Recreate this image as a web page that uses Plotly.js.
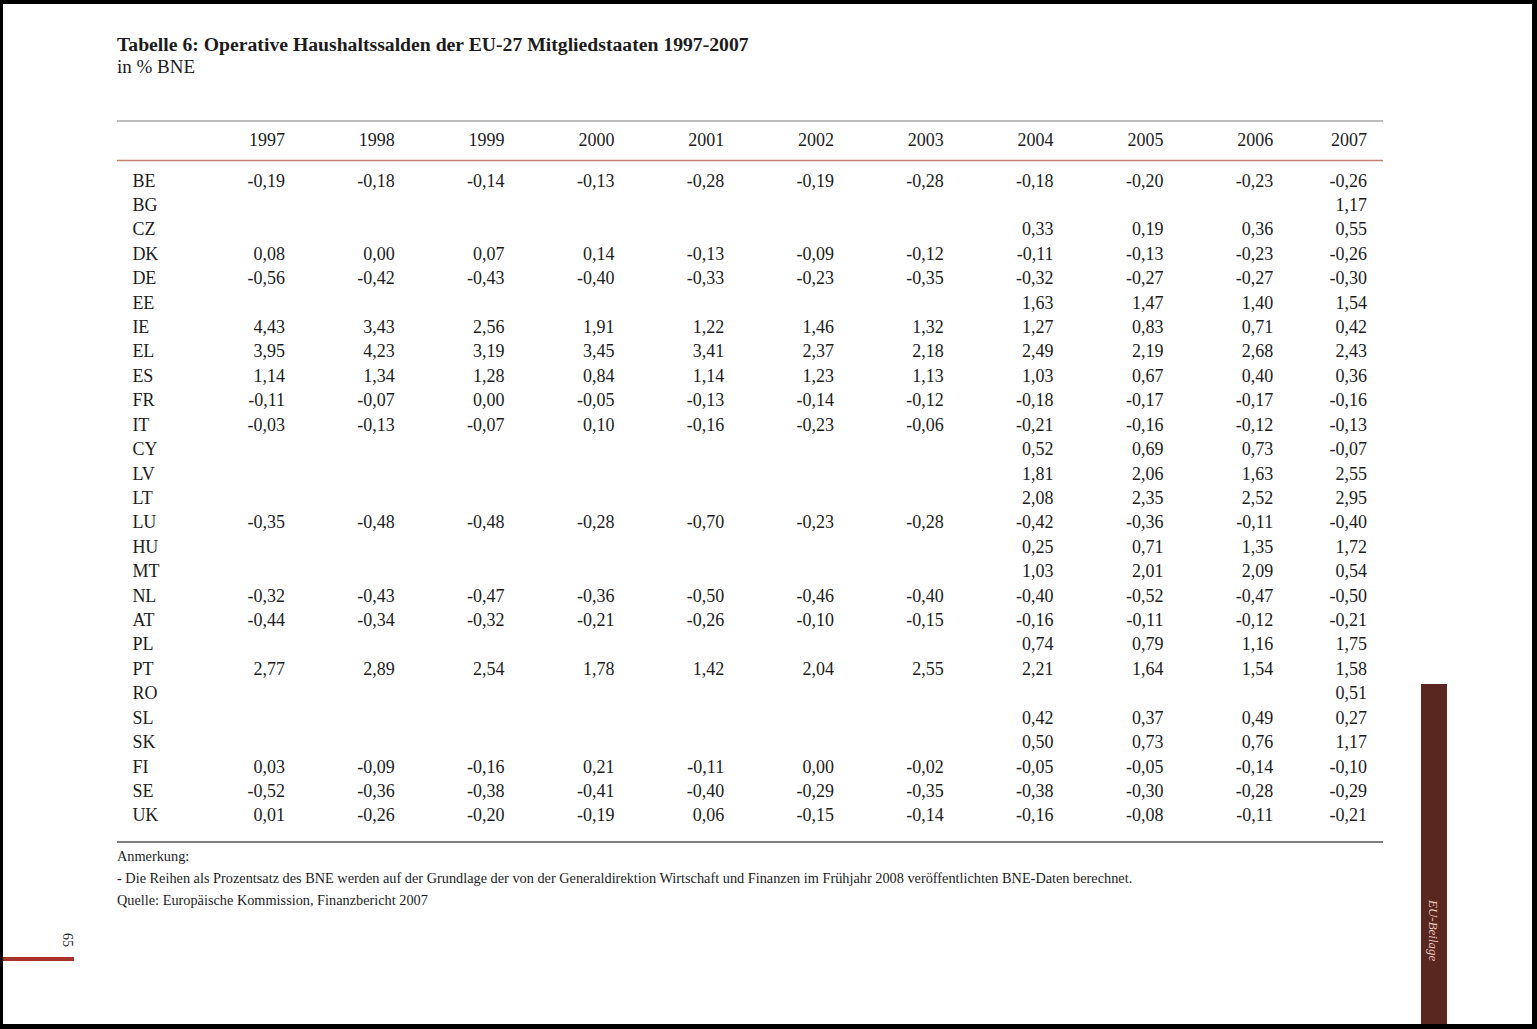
<!DOCTYPE html>
<html>
<head>
<meta charset="utf-8">
<script src="https://cdn.plot.ly/plotly-3.0.1.min.js"></script>
<style>
html,body{margin:0;padding:0;background:#ffffff;}
#chart{width:1537px;height:1029px;}
</style>
</head>
<body>
<div id="chart"></div>
<script>
// ---------- DATA ----------
var countries = ["BE","BG","CZ","DK","DE","EE","IE","EL","ES","FR","IT","CY","LV","LT","LU","HU","MT","NL","AT","PL","PT","RO","SL","SK","FI","SE","UK"];
var years = ["1997","1998","1999","2000","2001","2002","2003","2004","2005","2006","2007"];
var n = null;
var v1997 = [-0.19,n,n,0.08,-0.56,n,4.43,3.95,1.14,-0.11,-0.03,n,n,n,-0.35,n,n,-0.32,-0.44,n,2.77,n,n,n,0.03,-0.52,0.01];
var v1998 = [-0.18,n,n,0.00,-0.42,n,3.43,4.23,1.34,-0.07,-0.13,n,n,n,-0.48,n,n,-0.43,-0.34,n,2.89,n,n,n,-0.09,-0.36,-0.26];
var v1999 = [-0.14,n,n,0.07,-0.43,n,2.56,3.19,1.28,0.00,-0.07,n,n,n,-0.48,n,n,-0.47,-0.32,n,2.54,n,n,n,-0.16,-0.38,-0.20];
var v2000 = [-0.13,n,n,0.14,-0.40,n,1.91,3.45,0.84,-0.05,0.10,n,n,n,-0.28,n,n,-0.36,-0.21,n,1.78,n,n,n,0.21,-0.41,-0.19];
var v2001 = [-0.28,n,n,-0.13,-0.33,n,1.22,3.41,1.14,-0.13,-0.16,n,n,n,-0.70,n,n,-0.50,-0.26,n,1.42,n,n,n,-0.11,-0.40,0.06];
var v2002 = [-0.19,n,n,-0.09,-0.23,n,1.46,2.37,1.23,-0.14,-0.23,n,n,n,-0.23,n,n,-0.46,-0.10,n,2.04,n,n,n,0.00,-0.29,-0.15];
var v2003 = [-0.28,n,n,-0.12,-0.35,n,1.32,2.18,1.13,-0.12,-0.06,n,n,n,-0.28,n,n,-0.40,-0.15,n,2.55,n,n,n,-0.02,-0.35,-0.14];
var v2004 = [-0.18,n,0.33,-0.11,-0.32,1.63,1.27,2.49,1.03,-0.18,-0.21,0.52,1.81,2.08,-0.42,0.25,1.03,-0.40,-0.16,0.74,2.21,n,0.42,0.50,-0.05,-0.38,-0.16];
var v2005 = [-0.20,n,0.19,-0.13,-0.27,1.47,0.83,2.19,0.67,-0.17,-0.16,0.69,2.06,2.35,-0.36,0.71,2.01,-0.52,-0.11,0.79,1.64,n,0.37,0.73,-0.05,-0.30,-0.08];
var v2006 = [-0.23,n,0.36,-0.23,-0.27,1.40,0.71,2.68,0.40,-0.17,-0.12,0.73,1.63,2.52,-0.11,1.35,2.09,-0.47,-0.12,1.16,1.54,n,0.49,0.76,-0.14,-0.28,-0.11];
var v2007 = [-0.26,1.17,0.55,-0.26,-0.30,1.54,0.42,2.43,0.36,-0.16,-0.13,-0.07,2.55,2.95,-0.40,1.72,0.54,-0.50,-0.21,1.75,1.58,0.51,0.27,1.17,-0.10,-0.29,-0.21];
var columns = [v1997,v1998,v1999,v2000,v2001,v2002,v2003,v2004,v2005,v2006,v2007];

var titleText = "Tabelle 6: Operative Haushaltssalden der EU-27 Mitgliedstaaten 1997-2007";
var subtitleText = "in % BNE";
var noteHead = "Anmerkung:";
var noteText = "- Die Reihen als Prozentsatz des BNE werden auf der Grundlage der von der Generaldirektion Wirtschaft und Finanzen im Frühjahr 2008 veröffentlichten BNE-Daten berechnet.";
var sourceText = "Quelle: Europäische Kommission, Finanzbericht 2007";
var sideText = "EU-Beilage";
var pageNum = "65";

// ---------- LAYOUT HELPERS ----------
var W = 1537, H = 1029;
var FONT = "Liberation Serif, Times New Roman, serif";
var TXT = "#1c1c1c";
var ROW0 = 182, ROWH = 24.42, COL0 = 285, COLW = 109.8;
// column slots (right edges of numbers): slot index along x axis
var colSlot = [0,1,2,3,4,5,6,7,8,9,9.855];
var labelSlot = -1.39;
var headerRow = -1.66;
function fmt(v){ return (v===null) ? "" : v.toFixed(2).replace(".", ","); }
function px(x){ return x / W; }
function py(y){ return 1 - y / H; }

var rowIdx = countries.map(function(c,i){ return i; });
var traces = [];

// country labels
traces.push({
  type:"scatter", mode:"text", x: countries.map(function(){return labelSlot;}), y: rowIdx,
  text: countries, textposition:"middle right",
  textfont:{family:FONT, size:18, color:TXT}, hoverinfo:"skip", showlegend:false, cliponaxis:false
});
// header years
traces.push({
  type:"scatter", mode:"text", x: colSlot, y: years.map(function(){return headerRow;}),
  text: years, textposition:"middle left",
  textfont:{family:FONT, size:18, color:TXT}, hoverinfo:"skip", showlegend:false, cliponaxis:false
});
// value columns
columns.forEach(function(col, i){
  traces.push({
    type:"scatter", mode:"text",
    x: col.map(function(){ return colSlot[i]; }), y: rowIdx,
    text: col.map(fmt), textposition:"middle left",
    textfont:{family:FONT, size:18, color:TXT}, hoverinfo:"skip", showlegend:false, cliponaxis:false
  });
});

var shapes = [
  // table rules
  {type:"line", xref:"paper", yref:"paper", x0:px(117), x1:px(1383), y0:py(121), y1:py(121), line:{color:"#7a7a7a", width:1.2}},
  {type:"line", xref:"paper", yref:"paper", x0:px(117), x1:px(1383), y0:py(160.5), y1:py(160.5), line:{color:"#c48070", width:1.6}},
  {type:"line", xref:"paper", yref:"paper", x0:px(117), x1:px(1383), y0:py(842), y1:py(842), line:{color:"#555555", width:1.4}},
  // side bar
  {type:"rect", xref:"paper", yref:"paper", x0:px(1421), x1:px(1447), y0:py(1025), y1:py(684), fillcolor:"#5a2620", line:{width:0}},
  // page number red bar
  {type:"rect", xref:"paper", yref:"paper", x0:px(3), x1:px(74), y0:py(961), y1:py(957), fillcolor:"#a8322a", line:{width:0}},
  // scan borders
  {type:"rect", xref:"paper", yref:"paper", x0:0, x1:1, y0:py(4), y1:1, fillcolor:"#000", line:{width:0}},
  {type:"rect", xref:"paper", yref:"paper", x0:0, x1:px(3), y0:0, y1:1, fillcolor:"#000", line:{width:0}},
  {type:"rect", xref:"paper", yref:"paper", x0:px(1532), x1:1, y0:0, y1:1, fillcolor:"#000", line:{width:0}},
  {type:"rect", xref:"paper", yref:"paper", x0:0, x1:1, y0:0, y1:py(1024), fillcolor:"#000", line:{width:0}}
];

function ann(text, x, y, size, opts){
  var a = {text:text, xref:"paper", yref:"paper", x:px(x), y:py(y), xanchor:"left", yanchor:"middle",
    showarrow:false, font:{family:FONT, size:size, color:TXT}};
  if (opts) for (var k in opts) a[k] = opts[k];
  return a;
}
var annotations = [
  ann("<b>"+titleText+"</b>", 115, 44, 19.7),
  ann(subtitleText, 115, 67, 19),
  ann(noteHead, 115, 856, 14.3),
  ann(noteText, 115, 878, 14.3),
  ann(sourceText, 115, 900, 14.3),
  ann("<i>"+sideText+"</i>", 1434, 930, 13, {xanchor:"center", textangle:90, font:{family:FONT, size:13, color:"#e6c6bc"}}),
  ann(pageNum, 68, 940, 14, {xanchor:"center", textangle:90})
];

var layout = {
  width:W, height:H,
  margin:{l:0, r:0, t:0, b:0, pad:0},
  paper_bgcolor:"#ffffff", plot_bgcolor:"#ffffff",
  showlegend:false,
  xaxis:{range:[-COL0/COLW, (W-COL0)/COLW], visible:false, fixedrange:true},
  yaxis:{range:[(H-ROW0)/ROWH, -ROW0/ROWH], visible:false, fixedrange:true},
  shapes:shapes,
  annotations:annotations
};

Plotly.newPlot("chart", traces, layout, {staticPlot:true, displayModeBar:false});
</script>
</body>
</html>
